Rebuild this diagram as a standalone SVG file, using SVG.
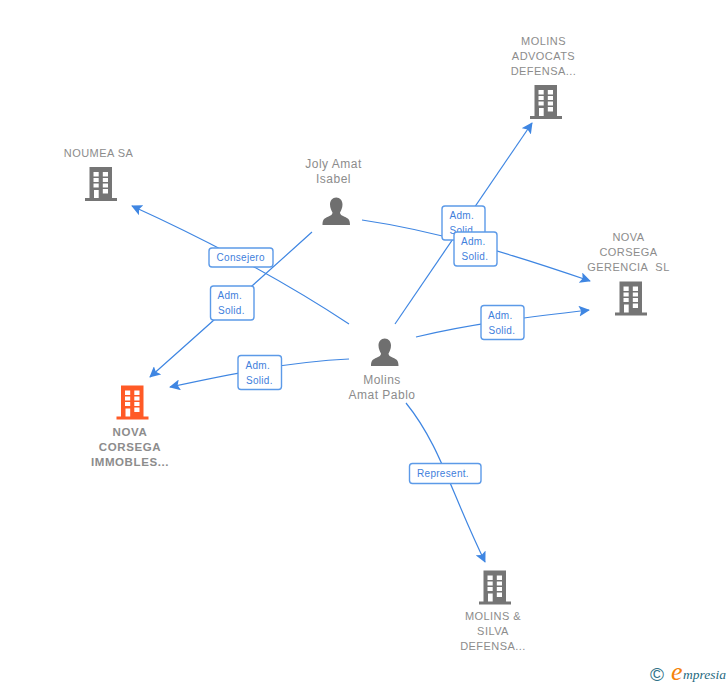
<svg xmlns="http://www.w3.org/2000/svg" width="728" height="685" viewBox="0 0 728 685">
<style>
.n{font:11px "Liberation Sans",Arial,sans-serif;fill:#8c8c8c;text-anchor:middle;letter-spacing:.45px}
.p{font-size:12px;letter-spacing:.5px}
.b{font-weight:bold;font-size:11.500px;letter-spacing:.6px}
.e{fill:none;stroke:#3f86e2;stroke-width:1.2}
.l rect{fill:#fff;stroke:#5c9ae8;stroke-width:1.4}
.l text{font:10px "Liberation Sans",Arial,sans-serif;fill:#3f80dc;letter-spacing:.3px}
</style>
<defs>
<marker id="a" viewBox="0 0 12 12" refX="11" refY="6" markerWidth="11" markerHeight="11" markerUnits="userSpaceOnUse" orient="auto"><path d="M0 0L12 6L0 12L2.500 6Z" fill="#3f86e2"/></marker>
<g id="bld"><path fill-rule="evenodd" d="M4.500 0H27V31H32V34H0V31H4.500ZM8.500 5V9.500H13.700V5ZM17.800 5V9.500H23V5ZM8.500 11V15H13.700V11ZM17.800 11V15H23V11ZM8.500 16.500V20.500H13.700V16.500ZM17.800 16.500V20.500H23V16.500ZM9 23V31H13.700V23ZM17.800 22V26.500H23V22Z"/></g>
<path id="per" d="M13.700 0C17.500 0 20 3 20 7C20 10.500 18.500 13 17.500 15C17.500 17 19 18 22 19.300C25.500 20.800 27.500 22 27.500 27.500H0C0 22 2 20.800 5.500 19.300C8.500 18 10 17 10 15C9 13 7.500 10.500 7.500 7C7.500 3 10 0 13.700 0Z" fill="#6f6f6f"/>
</defs>
<rect width="728" height="685" fill="#fff"/>
<g id="connectors">
<path class="e" marker-end="url(#a)" d="M312 232Q240 297 150 377"/>
<path class="e" marker-end="url(#a)" d="M349 324Q255 262 132 206"/>
<path class="e" marker-end="url(#a)" d="M349 359C290 362 240 372 170 387"/>
<path class="e" marker-end="url(#a)" d="M362 220C430 230 500 250 590 281"/>
<path class="e" marker-end="url(#a)" d="M395 324L532 123"/>
<path class="e" marker-end="url(#a)" d="M416 337C470 324 520 318 589 310"/>
<path class="e" marker-end="url(#a)" d="M406 403C440 445 450 490 485 562"/>
</g>
<g id="edge-labels" class="l">
<g><rect x="209" y="248" width="64" height="19" rx="3"/><text x="216.500" y="261">Consejero</text></g>
<g><rect x="210.500" y="286" width="43.500" height="34" rx="3"/><text x="217.500" y="299">Adm.</text><text x="218" y="314">Solid.</text></g>
<g><rect x="238" y="355.500" width="43.500" height="34" rx="3"/><text x="245.500" y="369">Adm.</text><text x="246" y="384">Solid.</text></g>
<g><rect x="442" y="206" width="43" height="34" rx="3"/><text x="449.500" y="219">Adm.</text><text x="449.500" y="234">Solid.</text></g>
<g><rect x="454" y="232" width="43" height="34" rx="3"/><text x="461" y="245">Adm.</text><text x="461.500" y="260">Solid.</text></g>
<g><rect x="481" y="305.500" width="43" height="34" rx="3"/><text x="488" y="319">Adm.</text><text x="488.500" y="334">Solid.</text></g>
<g><rect x="409.500" y="463.500" width="71.500" height="20" rx="3"/><text x="417" y="477">Represent.</text></g>
</g>
<g id="noumea"><use href="#bld" x="85" y="167" fill="#757575"/><text class="n" x="98.500" y="157">NOUMEA SA</text></g>
<g id="advocats"><use href="#bld" x="530" y="85" fill="#757575"/><text class="n"><tspan x="543.500" y="45">MOLINS</tspan><tspan x="543.500" y="60">ADVOCATS</tspan><tspan x="543.500" y="75">DEFENSA...</tspan></text></g>
<g id="gerencia"><use href="#bld" x="615" y="281.500" fill="#757575"/><text class="n"><tspan x="628.500" y="241">NOVA</tspan><tspan x="628.500" y="256">CORSEGA</tspan><tspan x="628.500" y="271">GERENCIA&#160; SL</tspan></text></g>
<g id="immobles"><use href="#bld" x="116.500" y="385.500" fill="#ff5a26"/><text class="n b"><tspan x="130" y="436">NOVA</tspan><tspan x="130" y="451">CORSEGA</tspan><tspan x="130" y="466">IMMOBLES...</tspan></text></g>
<g id="silva"><use href="#bld" x="479" y="570.500" fill="#757575"/><text class="n"><tspan x="493" y="620">MOLINS &amp;</tspan><tspan x="493" y="635">SILVA</tspan><tspan x="493" y="650">DEFENSA...</tspan></text></g>
<g id="joly"><use href="#per" x="322.500" y="197.500"/><text class="n p"><tspan x="333.500" y="168">Joly Amat</tspan><tspan x="333.500" y="183">Isabel</tspan></text></g>
<g id="molins"><use href="#per" x="371" y="338.500"/><text class="n p"><tspan x="382" y="384">Molins</tspan><tspan x="382" y="399">Amat Pablo</tspan></text></g>
<g id="logo"><text x="650" y="681" font-family="Liberation Sans,sans-serif" font-size="19" fill="#2f7288">©</text><text x="671" y="680" font-family="Liberation Serif,serif" font-style="italic" font-size="26" fill="#f5820a">e</text><text x="683" y="679" font-family="Liberation Serif,serif" font-style="italic" font-size="13.500" fill="#1f6a80">mpresia</text></g>
</svg>
